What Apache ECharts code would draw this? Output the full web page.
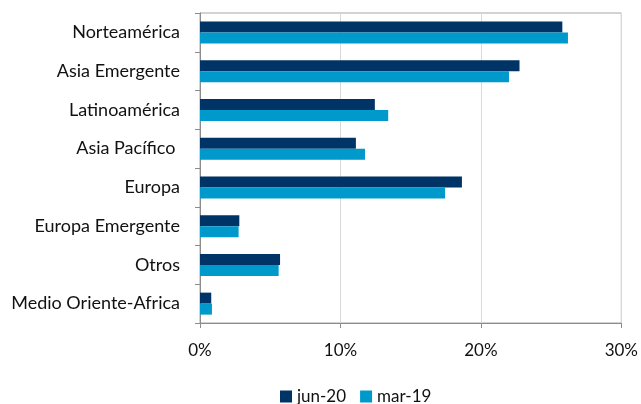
<!DOCTYPE html>
<html><head><meta charset="utf-8">
<script src="https://cdn.jsdelivr.net/npm/echarts@6/dist/echarts.min.js"></script>
<style>html,body{margin:0;padding:0;background:#fff}#c{width:641px;height:404px}</style>
</head><body><div id="c"></div>
<script>
const categories = ['Norteamérica','Asia Emergente','Latinoamérica','Asia Pacífico ','Europa','Europa Emergente','Otros','Medio Oriente-Africa'];
const seriesNames = ['jun-20','mar-19'];
const jun20 = [25.8, 22.75, 12.45, 11.1, 18.65, 2.8, 5.7, 0.8];
const mar19 = [26.2, 22.0, 13.4, 11.75, 17.45, 2.75, 5.6, 0.85];
const xTicks = [0, 10, 20, 30];

const chart = echarts.init(document.getElementById('c'), null, {renderer:'canvas'});
const font = 'Lato';
chart.setOption({
  animation:false,
  textStyle:{fontFamily:font},
  grid:{left:200,right:18,top:13,bottom:81,show:true,borderColor:'#a6a6a6',borderWidth:1,containLabel:false},
  legend:{
    data:seriesNames, left:275, top:383, itemWidth:12, itemHeight:12, itemGap:14,
    icon:'rect', textStyle:{fontFamily:font,fontSize:17,color:'#111'}
  },
  xAxis:{
    type:'value', min:xTicks[0], max:xTicks[xTicks.length-1], interval:10,
    axisLine:{show:true,lineStyle:{color:'#8c8c8c'}},
    axisTick:{show:true,length:5,lineStyle:{color:'#8c8c8c'}},
    splitLine:{show:true,lineStyle:{color:'#d9d9d9',width:1}},
    axisLabel:{formatter:'{value}%',fontSize:17,color:'#111',margin:19,fontFamily:font}
  },
  yAxis:{
    type:'category', data:categories, inverse:true,
    axisLine:{show:true,lineStyle:{color:'#8c8c8c'}},
    axisTick:{show:true,length:5,lineStyle:{color:'#8c8c8c'}},
    axisLabel:{fontSize:18,color:'#111',margin:20,fontFamily:font}
  },
  series:[
    {name:seriesNames[0],type:'bar',data:jun20,barWidth:11,barGap:'0%',itemStyle:{color:'#003366'}},
    {name:seriesNames[1],type:'bar',data:mar19,barWidth:11,barGap:'0%',itemStyle:{color:'#0099cc'}}
  ]
});
</script></body></html>
